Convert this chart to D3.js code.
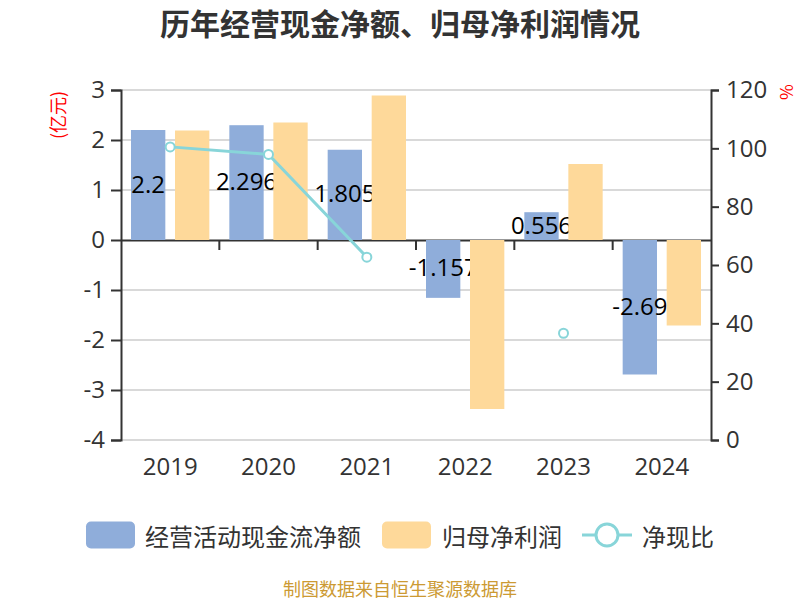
<!DOCTYPE html>
<html>
<head>
<meta charset="utf-8">
<script src="https://cdn.jsdelivr.net/npm/d3@7"></script>
<style>
  body { margin: 0; background: #fff; }
  svg { font-family: "Noto Sans CJK SC", "Noto Sans", sans-serif; }
</style>
</head>
<body>
<svg id="chart" width="800" height="600"></svg>
<script>
var years = ['2019', '2020', '2021', '2022', '2023', '2024'];
// 经营活动现金流净额 (亿元)
var cashFlow = [2.2, 2.296, 1.805, -1.157, 0.556, -2.69];
// 归母净利润 (亿元)
var netProfit = [2.19, 2.35, 2.89, -3.38, 1.52, -1.71];
// 净现比 (%), null where not shown
var cashRatio = [100.5, 97.9, 62.7, null, 36.6, null];

var leftTicks = [-4, -3, -2, -1, 0, 1, 2, 3];
var rightTicks = [0, 20, 40, 60, 80, 100, 120];

var blue = '#8fadda',
    orange = '#fed99a',
    teal = '#88d5d9',
    axisColor = '#333',
    gridColor = '#cccccc';

var svg = d3.select('#chart');

var margin = {left: 121, right: 711, top: 90, bottom: 440};

var x0 = d3.scaleBand()
    .domain(years)
    .range([margin.left, margin.right]);

var x1 = d3.scaleBand()
    .domain(['cash', 'profit'])
    .range([10, x0.bandwidth() - 10])
    .paddingInner(0.22);

var yL = d3.scaleLinear().domain([-4, 3]).range([margin.bottom, margin.top]);
var yR = d3.scaleLinear().domain([0, 120]).range([margin.bottom, margin.top]);

function plain(d) { return String(d); }

// title
svg.append('text')
    .attr('x', 400).attr('y', 22)
    .attr('text-anchor', 'middle')
    .attr('dominant-baseline', 'central')
    .style('font-size', '30px')
    .style('font-weight', 'bold')
    .style('fill', '#333')
    .text('历年经营现金净额、归母净利润情况');

// grid
svg.append('g').selectAll('line')
    .data(leftTicks.filter(function(d) { return d !== 0; }))
    .enter().append('line')
    .attr('x1', margin.left).attr('x2', margin.right)
    .attr('y1', function(d) { return yL(d); })
    .attr('y2', function(d) { return yL(d); })
    .style('stroke', gridColor)
    .style('stroke-width', 1.5);

// left axis
var leftAxis = d3.axisLeft(yL)
    .tickValues(leftTicks)
    .tickSize(10)
    .tickPadding(6)
    .tickFormat(plain);

var gL = svg.append('g')
    .attr('transform', 'translate(' + margin.left + ',0)')
    .call(leftAxis);

// right axis
var rightAxis = d3.axisRight(yR)
    .tickValues(rightTicks)
    .tickSize(8)
    .tickPadding(7)
    .tickFormat(plain);

var gR = svg.append('g')
    .attr('transform', 'translate(' + margin.right + ',0)')
    .call(rightAxis);

[gL, gR].forEach(function(g) {
    g.select('.domain').style('stroke', axisColor).style('stroke-width', 2);
    g.selectAll('.tick line').style('stroke', axisColor).style('stroke-width', 2);
    g.selectAll('.tick text')
        .style('font-size', '24px')
        .style('fill', axisColor)
        .style('font-family', '"Open Sans", "Noto Sans", sans-serif');
});

// axis titles
svg.append('text')
    .attr('transform', 'translate(57,115) rotate(-90)')
    .attr('text-anchor', 'middle')
    .attr('dominant-baseline', 'central')
    .style('font-size', '18px')
    .style('fill', '#ff0000')
    .text('(亿元)');

svg.append('text')
    .attr('transform', 'translate(787,92) rotate(90)')
    .attr('text-anchor', 'middle')
    .attr('dominant-baseline', 'central')
    .style('font-size', '17px')
    .style('fill', '#ff0000')
    .text('%');

// x axis at zero
var xAxis = d3.axisBottom(x0)
    .tickSize(0)
    .tickFormat('');

var gX = svg.append('g')
    .attr('transform', 'translate(0,' + yL(0) + ')')
    .call(xAxis);
gX.select('.domain').style('stroke', axisColor).style('stroke-width', 2);

// category boundary ticks
var boundaries = years.slice(1).map(function(d) { return x0(d); });
svg.append('g').selectAll('line')
    .data(boundaries)
    .enter().append('line')
    .attr('x1', function(d) { return d; }).attr('x2', function(d) { return d; })
    .attr('y1', yL(0)).attr('y2', yL(0) + 10)
    .style('stroke', axisColor)
    .style('stroke-width', 2);

// year labels at bottom
svg.append('g').selectAll('text')
    .data(years)
    .enter().append('text')
    .attr('x', function(d) { return x0(d) + x0.bandwidth() / 2; })
    .attr('y', 465)
    .attr('text-anchor', 'middle')
    .attr('dominant-baseline', 'central')
    .style('font-size', '24px')
    .style('fill', axisColor)
    .style('font-family', '"Open Sans", "Noto Sans", sans-serif')
    .text(function(d) { return d; });

// cash flow bars
svg.append('g').selectAll('rect')
    .data(cashFlow)
    .enter().append('rect')
    .attr('x', function(d, i) { return x0(years[i]) + x1('cash'); })
    .attr('width', x1.bandwidth())
    .attr('y', function(d) { return yL(Math.max(0, d)); })
    .attr('height', function(d) { return Math.abs(yL(d) - yL(0)); })
    .style('fill', blue);

// cash flow labels (drawn under the profit bars)
svg.append('g').selectAll('text')
    .data(cashFlow)
    .enter().append('text')
    .attr('x', function(d, i) { return x0(years[i]) + x1('cash') + x1.bandwidth() / 2; })
    .attr('y', function(d) { return (yL(d) + yL(0)) / 2 - 2; })
    .attr('text-anchor', 'middle')
    .attr('dominant-baseline', 'central')
    .style('font-size', '24px')
    .style('fill', '#000')
    .style('font-family', '"Open Sans", "Noto Sans", sans-serif')
    .text(function(d) { return d; });

// net profit bars
svg.append('g').selectAll('rect')
    .data(netProfit)
    .enter().append('rect')
    .attr('x', function(d, i) { return x0(years[i]) + x1('profit'); })
    .attr('width', x1.bandwidth())
    .attr('y', function(d) { return yL(Math.max(0, d)); })
    .attr('height', function(d) { return Math.abs(yL(d) - yL(0)); })
    .style('fill', orange);

// cash ratio line
var ratioPts = cashRatio.map(function(v, i) { return {year: years[i], v: v}; });

var line = d3.line()
    .defined(function(d) { return d.v !== null; })
    .x(function(d) { return x0(d.year) + x0.bandwidth() / 2; })
    .y(function(d) { return yR(d.v); });

svg.append('path')
    .datum(ratioPts)
    .attr('d', line)
    .style('fill', 'none')
    .style('stroke', teal)
    .style('stroke-width', 3);

svg.append('g').selectAll('circle')
    .data(ratioPts.filter(function(d) { return d.v !== null; }))
    .enter().append('circle')
    .attr('cx', function(d) { return x0(d.year) + x0.bandwidth() / 2; })
    .attr('cy', function(d) { return yR(d.v); })
    .attr('r', 4.5)
    .style('fill', '#fff')
    .style('stroke', teal)
    .style('stroke-width', 2);

// legend
var legend = svg.append('g').attr('class', 'legend');
var legendY = 535;

function legendText(x, label) {
    legend.append('text')
        .attr('x', x).attr('y', legendY)
        .attr('dominant-baseline', 'central')
        .style('font-size', '24px')
        .style('fill', '#333')
        .text(label);
}

legend.append('rect')
    .attr('x', 86).attr('y', legendY - 13.5)
    .attr('width', 49).attr('height', 27)
    .attr('rx', 5)
    .style('fill', blue);
legendText(145, '经营活动现金流净额');

legend.append('rect')
    .attr('x', 382).attr('y', legendY - 13.5)
    .attr('width', 49).attr('height', 27)
    .attr('rx', 5)
    .style('fill', orange);
legendText(442, '归母净利润');

legend.append('line')
    .attr('x1', 582).attr('x2', 632)
    .attr('y1', legendY).attr('y2', legendY)
    .style('stroke', teal)
    .style('stroke-width', 3);
legend.append('circle')
    .attr('cx', 607).attr('cy', legendY)
    .attr('r', 11)
    .style('fill', '#fff')
    .style('stroke', teal)
    .style('stroke-width', 3);
legendText(642, '净现比');

// footer
svg.append('text')
    .attr('x', 400).attr('y', 588)
    .attr('text-anchor', 'middle')
    .attr('dominant-baseline', 'central')
    .style('font-size', '18px')
    .style('fill', '#cc9a33')
    .text('制图数据来自恒生聚源数据库');
</script>
</body>
</html>
